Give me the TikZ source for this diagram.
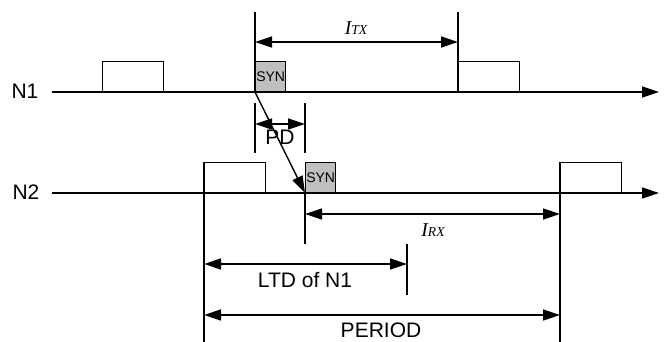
\documentclass[tikz,border=0pt]{standalone}
\usepackage{fontspec}
\setmainfont{Liberation Sans}
\newfontfamily\timesfont{Liberation Serif}
\usetikzlibrary{arrows.meta}
\tikzset{
  slot/.style={draw, minimum width=30.5pt, minimum height=15pt, inner sep=0pt, anchor=south west},
  synslot/.style={slot, fill=black!25, minimum width=15pt, font=\fontsize{7}{8}\selectfont},
  tip/.style={-{Triangle[length=8.5pt,width=5.5pt]}},
  dim/.style={{Triangle[length=8.5pt,width=5.5pt]}-{Triangle[length=8.5pt,width=5.5pt]}},
  lbl/.style={font=\fontsize{10.5}{12}\selectfont, inner sep=0pt},
}
\newcommand{\ivar}[1]{{\timesfont\itshape\fontsize{9.8}{11}\selectfont I{\fontsize{6.8}{8}\selectfont #1}}}
\begin{document}
\begin{tikzpicture}[x=0.5pt,y=-0.5pt,line width=0.7pt]
\useasboundingbox (0,0) rectangle (668,342);
% node N1
\node[lbl] (n1) at (25,91) {N1};
\draw[tip] (52,92) -- (659,92);
\node[slot] (a1) at (102,92) {};
\node[synslot] (s1) at (255,92) {SYN};
\node[slot] (a2) at (458,92) {};
\draw (255,12) -- (s1.south west);
\draw (458,12) -- (a2.south west);
\draw[dim] (255,42) -- (458,42);
\node (itx) at (356,28) {\ivar{TX}};
% propagation delay
\draw (255,103) -- (255,153);
\draw (305,103) -- (305,153);
\draw[dim] (255,124) -- (305,124);
\node[lbl] (pd) at (280,137) {PD};
% node N2
\node[lbl] (n2) at (26,192) {N2};
\draw[tip] (52,193) -- (659,193);
\node[slot] (b1) at (204,193) {};
\node[synslot] (s2) at (305,193) {SYN};
\node[slot] (b2) at (560,193) {};
\draw[tip] (s1.south west) -- (s2.south west);
\draw (b1.north west) -- (204,342);
\draw (b2.north west) -- (560,342);
\draw (s2.south west) -- (305,244);
\draw[dim] (305,214) -- (560,214);
\node (irx) at (433,230) {\ivar{RX}};
% listen time
\draw (407,244) -- (407,295);
\draw[dim] (204,264) -- (407,264);
\node[lbl] (ltd) at (305,280) {LTD of N1};
\draw[dim] (204,315) -- (560,315);
\node[lbl] (per) at (381,330) {PERIOD};
\end{tikzpicture}
\end{document}
